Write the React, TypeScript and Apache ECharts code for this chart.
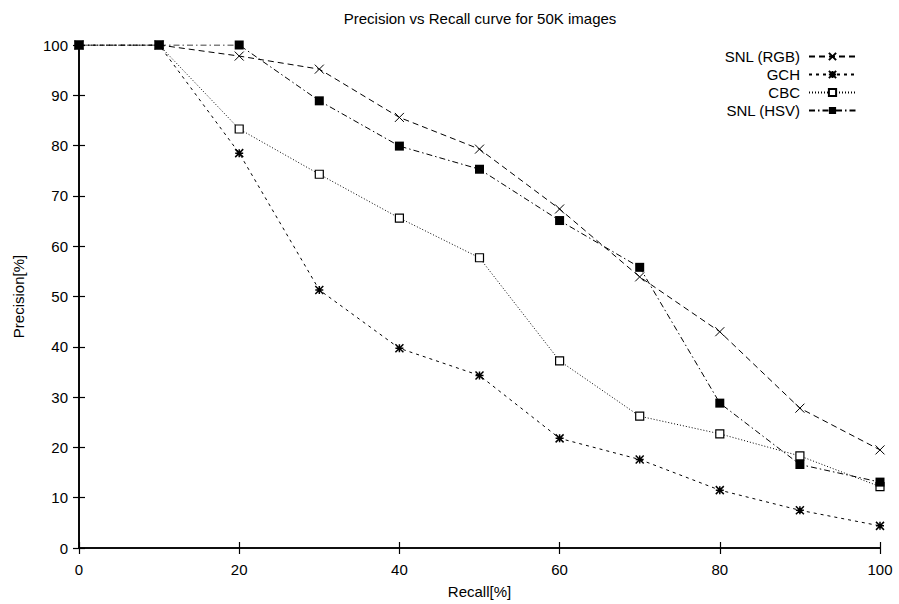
import React, { useEffect, useRef } from "react";
import * as echarts from "echarts";

const recall = [0, 10, 20, 30, 40, 50, 60, 70, 80, 90, 100];
const snlRgb = [100, 100, 97.8, 95.2, 85.6, 79.3, 67.4, 53.9, 43.0, 27.8, 19.5];
const gch = [100, 100, 78.5, 51.3, 39.7, 34.3, 21.8, 17.6, 11.5, 7.5, 4.4];
const cbc = [100, 100, 83.3, 74.3, 65.6, 57.7, 37.2, 26.2, 22.7, 18.3, 12.2];
const snlHsv = [100, 100, 100, 88.9, 79.9, 75.3, 65.1, 55.8, 28.8, 16.6, 13.1];

const xTicks = [0, 20, 40, 60, 80, 100];

const FONT = "Liberation Sans, Arial, Helvetica, sans-serif";

const pairs = (ys: number[]) => recall.map((x, i) => [x, ys[i]]);

export default function App() {
  const ref = useRef<HTMLDivElement>(null);
  useEffect(() => {
    if (!ref.current) return;
    const chart = echarts.init(ref.current, null, { renderer: "svg" });
    const axisLine = { show: true, lineStyle: { color: "#000", width: 1.6 } };
    const tick = { show: true, inside: true, length: 6, lineStyle: { color: "#000", width: 1.2 } };
    const lbl = { color: "#000", fontSize: 15, fontFamily: FONT };
    const baseLine = (name: string, ys: number[], dash: number[], symbol: string, size: number, itemStyle: any) => ({
      name,
      type: "line",
      data: pairs(ys),
      symbol,
      symbolSize: size,
      showAllSymbol: true,
      lineStyle: { color: "#000", width: 1, type: dash },
      itemStyle,
      emphasis: { disabled: true },
      z: 3,
    });
    chart.setOption({
      animation: false,
      backgroundColor: "#fff",
      textStyle: { fontFamily: FONT },
      grid: { left: 79, right: 19, top: 45, bottom: 56, containLabel: false },
      graphic: [
        {
          type: "text",
          x: 480,
          y: 18,
          style: {
            text: "Precision vs Recall curve for 50K images",
            fill: "#000",
            fontSize: 15,
            fontFamily: FONT,
            textAlign: "center",
            textVerticalAlign: "middle",
          },
        },
      ],
      legend: {
        orient: "vertical",
        right: 37,
        top: 44,
        align: "right",
        itemWidth: 47,
        itemHeight: 9,
        itemGap: 3,
        textStyle: { color: "#000", fontSize: 15, fontFamily: FONT, padding: [0, 4, 0, 0] },
        data: ["SNL (RGB)", "GCH", "CBC", "SNL (HSV)"],
      },
      xAxis: [
        {
          type: "value",
          position: "bottom",
          min: 0,
          max: 100,
          interval: 20,
          axisLine,
          axisTick: tick,
          axisLabel: { ...lbl, margin: 14, customValues: xTicks },
          splitLine: { show: false },
          name: "Recall[%]",
          nameLocation: "middle",
          nameGap: 36,
          nameTextStyle: { ...lbl },
        },
        {
          type: "value",
          position: "top",
          min: 0,
          max: 100,
          interval: 20,
          axisLine,
          axisTick: tick,
          axisLabel: { show: false },
          splitLine: { show: false },
        },
      ],
      yAxis: [
        {
          type: "value",
          position: "left",
          min: 0,
          max: 100,
          interval: 10,
          axisLine,
          axisTick: tick,
          axisLabel: { ...lbl, margin: 11 },
          splitLine: { show: false },
          name: "Precision[%]",
          nameLocation: "middle",
          nameGap: 53,
          nameTextStyle: { ...lbl },
        },
        {
          type: "value",
          position: "right",
          min: 0,
          max: 100,
          interval: 10,
          axisLine,
          axisTick: tick,
          axisLabel: { show: false },
          splitLine: { show: false },
        },
      ],
      series: [
        baseLine("SNL (RGB)", snlRgb, [6, 4], "path://M0,0L10,10M10,0L0,10", 9, {
          color: "#000",
          borderColor: "#000",
          borderWidth: 1,
        }),
        baseLine("GCH", gch, [3, 4], "path://M0,0L10,10M10,0L0,10M5,0L5,10M0,5L10,5", 8, {
          color: "#000",
          borderColor: "#000",
          borderWidth: 1.5,
        }),
        baseLine("CBC", cbc, [1, 2], "rect", 8, {
          color: "#fff",
          borderColor: "#000",
          borderWidth: 1.2,
        }),
        baseLine("SNL (HSV)", snlHsv, [6, 3, 1.5, 3], "rect", 9, {
          color: "#000",
          borderColor: "#000",
          borderWidth: 0,
        }),
      ],
    });
    return () => chart.dispose();
  }, []);
  return (
    <div
      ref={ref}
      style={{ position: "fixed", left: 0, top: 0, width: 899, height: 604, background: "#fff" }}
    />
  );
}
